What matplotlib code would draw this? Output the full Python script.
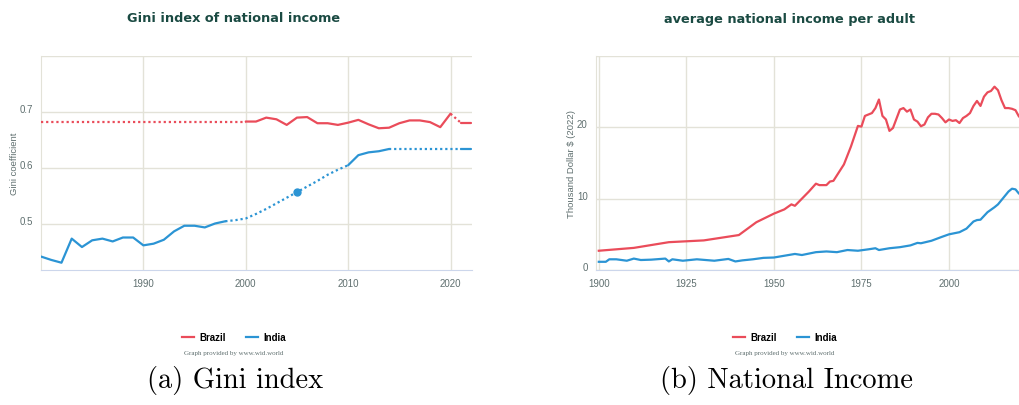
import matplotlib
matplotlib.use('Agg')
import matplotlib.pyplot as plt
from matplotlib.lines import Line2D
from matplotlib.transforms import ScaledTranslation

# Gini index of national income
gini_years = [1980, 1981, 1982, 1983, 1984, 1985, 1986, 1987, 1988, 1989,
              1990, 1991, 1992, 1993, 1994, 1995, 1996, 1997, 1998, 1999,
              2000, 2001, 2002, 2003, 2004, 2005, 2006, 2007, 2008, 2009,
              2010, 2011, 2012, 2013, 2014, 2015, 2016, 2017, 2018, 2019,
              2020, 2021, 2022]
brazil_gini = [0.683] * 20 + [0.683, 0.683, 0.690, 0.687, 0.677, 0.690, 0.691, 0.680, 0.680, 0.677,
                              0.681, 0.686, 0.678, 0.671, 0.672, 0.680, 0.685, 0.685, 0.682, 0.673,
                              0.697, 0.681, 0.681]
india_gini = [0.442, 0.436, 0.431, 0.474, 0.459, 0.471, 0.474, 0.469, 0.476, 0.476,
              0.462, 0.465, 0.472, 0.487, 0.497, 0.497, 0.494, 0.501, 0.505, 0.507,
              0.510, 0.518, 0.527, 0.537, 0.547, 0.557, 0.567, 0.577, 0.588, 0.597,
              0.605, 0.623, 0.628, 0.630, 0.634, 0.634, 0.634, 0.634, 0.634, 0.634,
              0.634, 0.634, 0.634]
# segments starting at these years are drawn dotted (missing data)
brazil_gini_dotted = list(range(1980, 2000)) + [2020]
india_gini_dotted = list(range(1998, 2010)) + list(range(2014, 2021))
india_gini_marker = 2005

# average national income per adult (thousand $ 2022)
brazil_inc_years = [1900, 1910, 1920, 1930, 1940, 1945, 1950, 1953, 1955, 1956,
                    1958, 1960, 1962, 1963, 1965, 1966, 1967, 1970, 1972, 1974,
                    1975, 1976, 1978, 1979, 1980, 1981, 1982, 1983, 1984, 1985,
                    1986, 1987, 1988, 1989, 1990, 1991, 1992, 1993, 1994, 1995,
                    1996, 1997, 1998, 1999, 2000, 2001, 2002, 2003, 2004, 2005,
                    2006, 2007, 2008, 2009, 2010, 2011, 2012, 2013, 2014, 2015,
                    2016, 2017, 2018, 2019, 2020, 2021]
brazil_inc = [2.7, 3.1, 3.9, 4.15, 4.9, 6.7, 7.9, 8.5, 9.2, 9.0,
              10.0, 11.0, 12.1, 11.9, 11.9, 12.4, 12.5, 14.8, 17.3, 20.2,
              20.1, 21.6, 22.0, 22.7, 23.9, 21.6, 21.1, 19.5, 19.9, 21.2,
              22.5, 22.7, 22.2, 22.5, 21.1, 20.8, 20.15, 20.4, 21.4, 21.9,
              21.9, 21.8, 21.3, 20.7, 21.1, 20.9, 21.0, 20.6, 21.3, 21.6,
              22.0, 23.0, 23.7, 23.0, 24.3, 24.9, 25.1, 25.7, 25.2, 23.8,
              22.7, 22.7, 22.6, 22.4, 21.5, 22.0]
india_inc_years = [1900, 1902, 1903, 1905, 1908, 1910, 1912, 1915, 1919, 1920,
                   1921, 1924, 1928, 1933, 1937, 1939, 1941, 1944, 1947, 1950,
                   1953, 1956, 1958, 1962, 1965, 1968, 1971, 1974, 1977, 1979,
                   1980, 1983, 1986, 1989, 1991, 1992, 1995, 1998, 2000, 2003,
                   2005, 2007, 2008, 2009, 2011, 2013, 2014, 2016, 2017, 2018,
                   2019, 2020, 2021]
india_inc = [1.15, 1.15, 1.5, 1.5, 1.3, 1.6, 1.4, 1.45, 1.6, 1.2,
             1.5, 1.3, 1.5, 1.3, 1.55, 1.2, 1.35, 1.5, 1.7, 1.75,
             2.0, 2.25, 2.1, 2.5, 2.6, 2.5, 2.8, 2.7, 2.9, 3.05,
             2.8, 3.05, 3.2, 3.45, 3.8, 3.75, 4.1, 4.65, 5.0, 5.3,
             5.8, 6.8, 7.0, 7.05, 8.1, 8.8, 9.2, 10.4, 11.0, 11.4,
             11.3, 10.7, 11.0]

RED = '#ea4c5a'
BLUE = '#2b94d4'
GRID = '#e3e2d8'
TICK = '#5f6f6f'
TITLE = '#1a4a42'
BOTTOM = '#ccd6eb'


def draw_series(ax, years, vals, dotted, color):
    # group consecutive segments by style and plot each run
    run_x, run_y, run_dot = [years[0]], [vals[0]], years[0] in dotted
    for i in range(1, len(years)):
        dot = years[i - 1] in dotted
        if dot != run_dot:
            style_line(ax, run_x, run_y, run_dot, color)
            run_x, run_y, run_dot = [years[i - 1]], [vals[i - 1]], dot
        run_x.append(years[i])
        run_y.append(vals[i])
    style_line(ax, run_x, run_y, run_dot, color)


def style_line(ax, xs, ys, dotted, color):
    if dotted:
        ax.plot(xs, ys, color=color, lw=1.6, linestyle=(0, (1, 1.3)), zorder=3)
    else:
        ax.plot(xs, ys, color=color, lw=1.6, solid_capstyle='round', zorder=3)


def style_axes(ax):
    ax.grid(True, color=GRID, lw=1)
    ax.set_axisbelow(True)
    for s in ['top', 'right']:
        ax.spines[s].set_visible(False)
    ax.spines['left'].set_color(GRID)
    ax.spines['bottom'].set_color(BOTTOM)
    ax.tick_params(length=0, labelsize=7, labelcolor=TICK, pad=6)
    for lab in ax.get_yticklabels():
        lab.set_transform(lab.get_transform() + ScaledTranslation(0, 3 / 72, fig.dpi_scale_trans))
        lab.set_fontfamily('Liberation Sans')
    for lab in ax.get_xticklabels():
        lab.set_fontfamily('Liberation Sans')


fig = plt.figure(figsize=(10.19, 4.06), dpi=100)

ax1 = fig.add_axes([41 / 1019, 1 - 271 / 406, 431 / 1019, 214 / 406])
draw_series(ax1, gini_years, brazil_gini, brazil_gini_dotted, RED)
draw_series(ax1, gini_years, india_gini, india_gini_dotted, BLUE)
ax1.plot([india_gini_marker], [india_gini[gini_years.index(india_gini_marker)]], 'o',
         color=BLUE, ms=5, zorder=4)
ax1.set_xlim(1980, 2022.1)
ax1.set_ylim(0.418, 0.8)
ax1.set_xticks([1990, 2000, 2010, 2020])
ax1.set_yticks([0.5, 0.6, 0.7, 0.8])
ax1.set_yticklabels(['0.5', '0.6', '0.7', ''])
ax1.set_ylabel('Gini coefficient', fontsize=6.8, color=TICK, family='Liberation Sans')
ax1.yaxis.set_label_coords(-0.0506, 0.5)
style_axes(ax1)

ax2 = fig.add_axes([596 / 1019, 1 - 271 / 406, 1 - 596 / 1019, 214 / 406])
ax2.plot(brazil_inc_years, brazil_inc, color=RED, lw=1.6, zorder=3)
ax2.plot(india_inc_years, india_inc, color=BLUE, lw=1.6, zorder=3)
ax2.set_xlim(1899.2, 2020)
ax2.set_ylim(0, 30)
ax2.set_xticks([1900, 1925, 1950, 1975, 2000])
ax2.set_yticks([0, 10, 20, 30])
ax2.set_yticklabels(['0', '10', '20', ''])
ax2.set_ylabel('Thousand Dollar $ (2022)', fontsize=6.8, color=TICK, family='Liberation Sans')
ax2.yaxis.set_label_coords(-0.047, 0.5)
style_axes(ax2)

fig.text(234 / 1019, 1 - 19 / 406, 'Gini index of national income', ha='center', va='center',
         fontsize=9.3, fontweight='heavy', color=TITLE)
fig.text(789 / 1019, 1 - 19 / 406, 'average national income per adult', ha='center', va='center',
         fontsize=9.3, fontweight='heavy', color=TITLE)

for cx, cap in [(234, '(a) Gini index'), (785, '(b) National Income')]:
    handles = [Line2D([], [], color=RED, lw=1.6), Line2D([], [], color=BLUE, lw=1.6)]
    fig.legend(handles, ['Brazil', 'India'], loc='center', bbox_to_anchor=(cx / 1019, 1 - 338 / 406),
               ncol=2, frameon=False, handlelength=1.25, handletextpad=0.6, columnspacing=2.0,
               prop={'family': 'Liberation Sans', 'weight': 'bold', 'size': 7})
    fig.text(cx / 1019, 1 - 354 / 406, 'Graph provided by www.wid.world', ha='center', va='center',
             fontsize=5, color=TICK, family='Liberation Serif')
    fig.text(cx / 1019 + 1 / 1019, 1 - 381 / 406, cap, ha='center', va='center',
             fontsize=20.5, family='cmr10', color='black')

fig.savefig('out.png', dpi=100)
